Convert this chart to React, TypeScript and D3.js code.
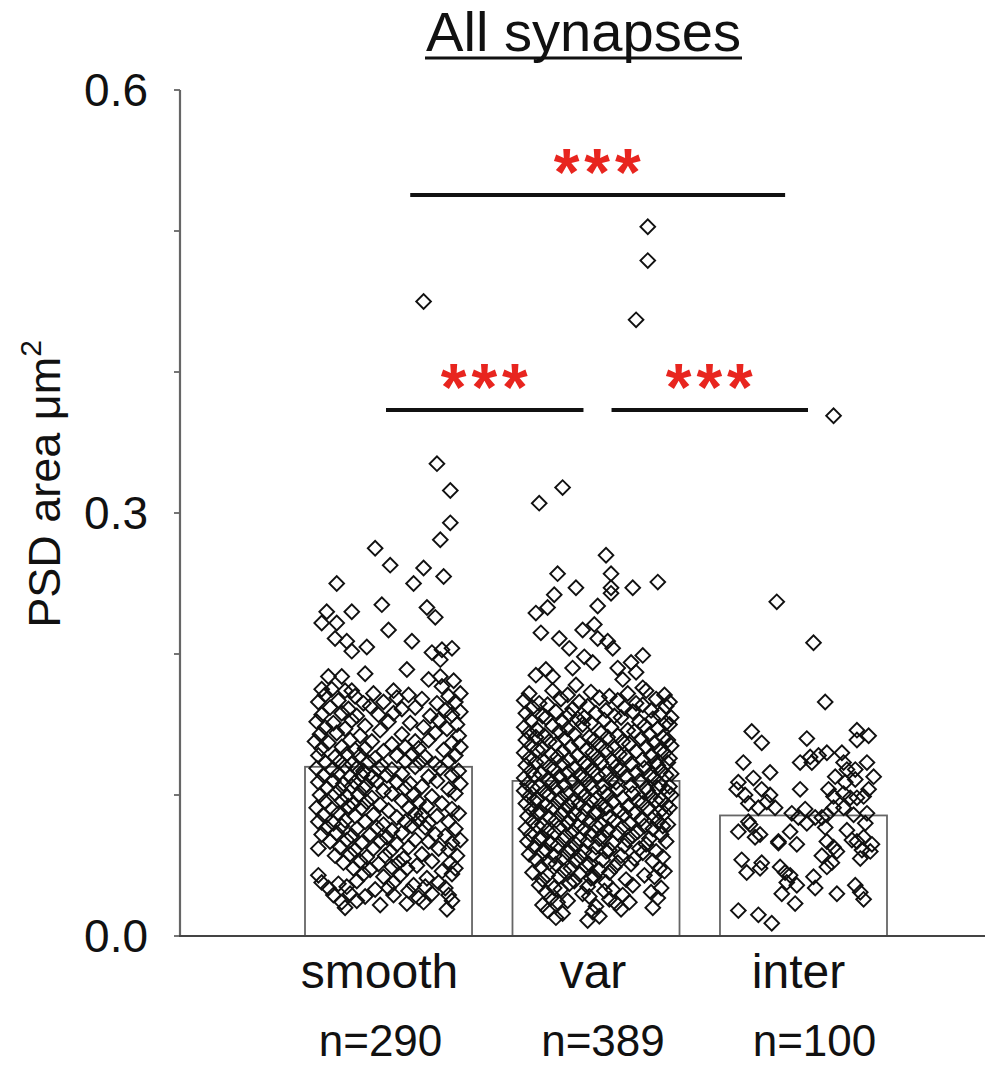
import React from 'react';
import * as d3 from 'd3';

const categories = ['smooth', 'var', 'inter'];
const counts = [290, 389, 100];
const means = [0.12, 0.11, 0.0855];
const yTicks = [0, 0.1, 0.2, 0.3, 0.4, 0.5, 0.6];
const yLabelTicks = [0, 0.3, 0.6];
const title = 'All synapses';
const yTitle = 'PSD area \u03bcm';
const sigLabel = '***';

// [fraction across the bar, PSD area]
const smoothPts: [number, number][] = [
  [0.71,0.450],[0.79,0.335],[0.87,0.316],[0.87,0.293],[0.81,0.281],[0.42,0.275],[0.51,0.263],[0.71,0.261],
  [0.83,0.255],[0.65,0.250],[0.19,0.250],[0.46,0.235],[0.73,0.233],[0.13,0.230],[0.28,0.230],[0.78,0.226],
  [0.10,0.222],[0.19,0.222],[0.50,0.217],[0.18,0.211],[0.25,0.209],[0.64,0.209],[0.37,0.205],[0.28,0.202],
  [0.76,0.201],[0.82,0.203],[0.88,0.204],[0.81,0.196],[0.14,0.184],[0.22,0.184],[0.36,0.186],[0.61,0.189],
  [0.74,0.182],[0.81,0.184],[0.89,0.181],[0.82,0.177],[0.10,0.175],[0.16,0.175],[0.24,0.174],[0.28,0.174],[0.53,0.174],
  [0.12,0.171],[0.30,0.170],[0.41,0.172],[0.55,0.169],[0.62,0.171],[0.86,0.170],[0.93,0.172],
  [0.08,0.166],[0.20,0.167],[0.35,0.165],[0.47,0.166],[0.70,0.168],[0.79,0.165],[0.90,0.166],
  [0.15,0.162],[0.26,0.161],[0.39,0.163],[0.58,0.161],[0.66,0.162],[0.84,0.160],
  [0.10,0.157],[0.22,0.158],[0.31,0.156],[0.44,0.157],[0.53,0.158],[0.75,0.156],[0.88,0.157],[0.93,0.159],
  [0.07,0.152],[0.17,0.151],[0.28,0.153],[0.50,0.152],[0.63,0.151],[0.80,0.153],[0.91,0.150],
  [0.12,0.148],[0.24,0.147],[0.36,0.149],[0.45,0.146],[0.71,0.148],[0.85,0.147],
  [0.09,0.143],[0.19,0.144],[0.33,0.142],[0.58,0.143],[0.78,0.144],[0.92,0.142],
  [0.06,0.138],[0.14,0.137],[0.27,0.139],[0.40,0.138],[0.52,0.136],[0.66,0.138],[0.74,0.139],[0.88,0.137],
  [0.10,0.133],[0.22,0.134],[0.30,0.132],[0.36,0.133],[0.47,0.131],[0.60,0.134],[0.68,0.133],[0.83,0.132],[0.93,0.134],
  [0.08,0.128],[0.18,0.127],[0.25,0.129],[0.33,0.128],[0.42,0.126],[0.55,0.128],[0.64,0.129],[0.72,0.127],[0.90,0.128],
  [0.12,0.123],[0.21,0.124],[0.28,0.122],[0.38,0.123],[0.46,0.121],[0.60,0.124],[0.69,0.123],[0.78,0.122],[0.86,0.124],
  [0.07,0.119],[0.16,0.118],[0.24,0.120],[0.31,0.119],[0.35,0.117],[0.44,0.119],[0.52,0.118],[0.66,0.120],[0.81,0.119],[0.92,0.117],
  [0.11,0.114],[0.20,0.115],[0.27,0.113],[0.34,0.114],[0.40,0.112],[0.49,0.114],[0.58,0.115],[0.74,0.113],[0.88,0.114],
  [0.08,0.109],[0.17,0.110],[0.23,0.108],[0.30,0.109],[0.37,0.107],[0.43,0.110],[0.55,0.109],[0.63,0.108],[0.79,0.110],[0.93,0.108],
  [0.13,0.105],[0.21,0.104],[0.28,0.106],[0.35,0.105],[0.47,0.103],[0.60,0.105],[0.70,0.106],[0.86,0.104],
  [0.09,0.100],[0.18,0.101],[0.25,0.099],[0.32,0.100],[0.40,0.098],[0.52,0.101],[0.65,0.100],[0.76,0.099],[0.90,0.101],
  [0.12,0.095],[0.22,0.096],[0.29,0.094],[0.37,0.095],[0.45,0.093],[0.58,0.096],[0.68,0.095],[0.82,0.094],
  [0.07,0.091],[0.16,0.090],[0.26,0.092],[0.34,0.091],[0.50,0.089],[0.62,0.091],[0.73,0.092],[0.88,0.090],
  [0.11,0.086],[0.20,0.087],[0.30,0.085],[0.41,0.086],[0.55,0.084],[0.66,0.087],[0.70,0.086],[0.79,0.085],[0.92,0.087],
  [0.08,0.081],[0.17,0.080],[0.24,0.082],[0.36,0.081],[0.47,0.079],[0.60,0.081],[0.68,0.082],[0.74,0.080],[0.86,0.081],
  [0.13,0.077],[0.22,0.078],[0.31,0.076],[0.43,0.077],[0.52,0.075],[0.64,0.078],[0.72,0.077],[0.90,0.076],
  [0.10,0.072],[0.19,0.073],[0.28,0.071],[0.39,0.072],[0.49,0.070],[0.58,0.073],[0.78,0.072],[0.84,0.071],
  [0.15,0.067],[0.25,0.068],[0.34,0.066],[0.45,0.067],[0.55,0.065],[0.66,0.068],[0.74,0.067],[0.88,0.066],[0.93,0.068],
  [0.08,0.062],[0.21,0.063],[0.30,0.061],[0.41,0.062],[0.51,0.060],[0.62,0.063],[0.80,0.062],[0.86,0.061],
  [0.18,0.057],[0.27,0.058],[0.37,0.056],[0.48,0.057],[0.59,0.055],[0.70,0.058],[0.91,0.057],
  [0.23,0.052],[0.33,0.053],[0.44,0.051],[0.56,0.052],[0.67,0.050],[0.76,0.053],[0.87,0.052],
  [0.29,0.048],[0.39,0.047],[0.52,0.049],[0.61,0.048],[0.82,0.046],[0.90,0.048],
  [0.08,0.043],[0.35,0.044],[0.47,0.042],[0.57,0.043],[0.73,0.041],[0.88,0.044],
  [0.10,0.038],[0.20,0.037],[0.31,0.039],[0.53,0.038],[0.65,0.036],[0.80,0.038],
  [0.14,0.034],[0.25,0.035],[0.42,0.033],[0.50,0.034],[0.62,0.032],[0.72,0.035],[0.84,0.034],
  [0.17,0.029],[0.27,0.030],[0.36,0.028],[0.53,0.029],[0.68,0.027],[0.76,0.030],[0.86,0.029],
  [0.22,0.024],[0.31,0.025],[0.61,0.023],[0.71,0.024],[0.88,0.025],
  [0.24,0.020],[0.85,0.019],[0.45,0.022],
];

const varPts: [number, number][] = [
  [0.81,0.503],[0.81,0.479],[0.74,0.437],[0.30,0.318],[0.16,0.307],[0.56,0.270],[0.27,0.257],[0.59,0.257],
  [0.38,0.247],[0.59,0.247],[0.59,0.243],[0.72,0.247],[0.87,0.251],[0.25,0.242],[0.21,0.233],[0.14,0.229],
  [0.51,0.234],[0.17,0.215],[0.28,0.211],[0.42,0.217],[0.49,0.221],[0.51,0.211],[0.57,0.209],[0.60,0.204],
  [0.34,0.204],[0.43,0.198],[0.48,0.194],[0.63,0.190],[0.71,0.194],[0.78,0.199],[0.74,0.187],[0.14,0.185],
  [0.20,0.189],[0.24,0.184],[0.36,0.190],[0.38,0.178],[0.66,0.182],[0.78,0.176],
  [0.10,0.172],[0.24,0.174],[0.33,0.171],[0.47,0.173],[0.58,0.170],[0.69,0.172],[0.80,0.174],[0.91,0.171],
  [0.07,0.167],[0.16,0.165],[0.29,0.168],[0.40,0.166],[0.52,0.169],[0.63,0.167],[0.74,0.165],[0.86,0.168],[0.94,0.166],
  [0.12,0.162],[0.21,0.164],[0.36,0.161],[0.45,0.163],[0.56,0.160],[0.67,0.162],[0.78,0.164],[0.83,0.160],[0.92,0.163],
  [0.08,0.158],[0.18,0.156],[0.26,0.159],[0.34,0.157],[0.43,0.155],[0.50,0.158],[0.61,0.156],[0.72,0.159],[0.88,0.157],[0.95,0.155],
  [0.11,0.153],[0.20,0.155],[0.30,0.152],[0.39,0.154],[0.47,0.151],[0.55,0.153],[0.65,0.155],[0.76,0.152],[0.84,0.154],[0.92,0.151],
  [0.07,0.148],[0.15,0.146],[0.24,0.149],[0.33,0.147],[0.42,0.150],[0.59,0.148],[0.69,0.146],[0.79,0.149],[0.87,0.147],[0.94,0.150],
  [0.10,0.144],[0.19,0.142],[0.28,0.145],[0.37,0.143],[0.46,0.141],[0.53,0.144],[0.63,0.142],[0.73,0.145],[0.82,0.143],[0.90,0.141],
  [0.08,0.139],[0.14,0.141],[0.22,0.138],[0.31,0.140],[0.40,0.137],[0.49,0.139],[0.57,0.141],[0.66,0.138],[0.77,0.140],[0.85,0.137],[0.93,0.139],
  [0.11,0.135],[0.18,0.133],[0.26,0.136],[0.35,0.134],[0.44,0.132],[0.52,0.135],[0.61,0.133],[0.70,0.136],[0.80,0.134],[0.88,0.132],[0.95,0.135],
  [0.07,0.130],[0.15,0.132],[0.23,0.129],[0.30,0.131],[0.39,0.128],[0.48,0.130],[0.56,0.132],[0.64,0.129],[0.74,0.131],[0.83,0.128],[0.91,0.130],
  [0.10,0.126],[0.19,0.124],[0.27,0.127],[0.34,0.125],[0.43,0.123],[0.51,0.126],[0.60,0.124],[0.68,0.127],[0.78,0.125],[0.86,0.123],[0.94,0.126],
  [0.08,0.121],[0.14,0.123],[0.22,0.120],[0.30,0.122],[0.37,0.119],[0.45,0.121],[0.53,0.123],[0.62,0.120],[0.71,0.122],[0.79,0.119],[0.87,0.121],[0.93,0.123],
  [0.11,0.117],[0.17,0.115],[0.25,0.118],[0.33,0.116],[0.40,0.114],[0.48,0.117],[0.56,0.115],[0.65,0.118],[0.74,0.116],[0.82,0.114],[0.89,0.117],[0.95,0.115],
  [0.07,0.112],[0.13,0.114],[0.21,0.111],[0.28,0.113],[0.36,0.110],[0.43,0.112],[0.51,0.114],[0.59,0.111],[0.68,0.113],[0.76,0.110],[0.85,0.112],[0.92,0.114],
  [0.09,0.108],[0.16,0.106],[0.24,0.109],[0.31,0.107],[0.39,0.105],[0.46,0.108],[0.54,0.106],[0.62,0.109],[0.71,0.107],[0.80,0.105],[0.88,0.108],[0.94,0.106],
  [0.07,0.103],[0.12,0.105],[0.19,0.102],[0.26,0.104],[0.33,0.101],[0.41,0.103],[0.48,0.105],[0.55,0.102],[0.63,0.104],[0.72,0.101],[0.81,0.103],[0.87,0.105],[0.93,0.102],
  [0.10,0.099],[0.15,0.097],[0.22,0.100],[0.29,0.098],[0.36,0.096],[0.43,0.099],[0.50,0.097],[0.57,0.100],[0.66,0.098],[0.75,0.096],[0.83,0.099],[0.89,0.097],[0.95,0.100],
  [0.08,0.094],[0.13,0.096],[0.20,0.093],[0.27,0.095],[0.34,0.092],[0.40,0.094],[0.47,0.096],[0.53,0.093],[0.60,0.095],[0.69,0.092],[0.78,0.094],[0.86,0.096],[0.92,0.093],
  [0.11,0.090],[0.17,0.088],[0.24,0.091],[0.31,0.089],[0.37,0.087],[0.44,0.090],[0.51,0.088],[0.56,0.091],[0.64,0.089],[0.73,0.087],[0.81,0.090],[0.88,0.088],[0.94,0.091],
  [0.09,0.085],[0.15,0.087],[0.22,0.084],[0.29,0.086],[0.35,0.083],[0.42,0.085],[0.49,0.087],[0.58,0.084],[0.67,0.086],[0.77,0.083],[0.85,0.085],[0.91,0.087],
  [0.12,0.081],[0.18,0.079],[0.26,0.082],[0.33,0.080],[0.39,0.078],[0.46,0.081],[0.53,0.079],[0.61,0.082],[0.70,0.080],[0.79,0.078],[0.87,0.081],[0.93,0.079],
  [0.08,0.076],[0.15,0.078],[0.21,0.075],[0.28,0.077],[0.36,0.074],[0.43,0.076],[0.50,0.078],[0.57,0.075],[0.66,0.077],[0.75,0.074],[0.84,0.076],[0.90,0.078],
  [0.11,0.072],[0.18,0.070],[0.25,0.073],[0.32,0.071],[0.40,0.069],[0.47,0.072],[0.55,0.070],[0.63,0.073],[0.72,0.071],[0.82,0.069],[0.89,0.072],
  [0.09,0.067],[0.16,0.069],[0.23,0.066],[0.30,0.068],[0.38,0.065],[0.45,0.067],[0.52,0.069],[0.60,0.066],[0.69,0.068],[0.80,0.065],[0.92,0.067],
  [0.13,0.063],[0.20,0.061],[0.27,0.064],[0.35,0.062],[0.43,0.060],[0.50,0.063],[0.58,0.061],[0.67,0.064],[0.76,0.062],[0.86,0.060],
  [0.10,0.058],[0.18,0.060],[0.25,0.057],[0.33,0.059],[0.41,0.056],[0.48,0.058],[0.56,0.060],[0.65,0.057],[0.78,0.059],[0.90,0.056],
  [0.14,0.054],[0.22,0.052],[0.30,0.055],[0.38,0.053],[0.46,0.051],[0.54,0.054],[0.63,0.052],[0.73,0.055],[0.84,0.053],
  [0.17,0.049],[0.26,0.051],[0.35,0.048],[0.44,0.050],[0.52,0.047],[0.61,0.049],[0.71,0.051],[0.88,0.048],
  [0.12,0.045],[0.21,0.043],[0.31,0.046],[0.40,0.044],[0.49,0.042],[0.58,0.045],[0.79,0.043],[0.91,0.046],
  [0.18,0.040],[0.28,0.042],[0.37,0.039],[0.47,0.041],[0.56,0.038],[0.68,0.040],[0.85,0.042],
  [0.16,0.036],[0.25,0.034],[0.34,0.037],[0.45,0.035],[0.60,0.033],[0.72,0.036],[0.89,0.034],
  [0.20,0.031],[0.29,0.033],[0.42,0.030],[0.55,0.032],[0.66,0.029],[0.83,0.031],
  [0.23,0.027],[0.33,0.025],[0.46,0.028],[0.58,0.026],[0.70,0.024],[0.87,0.027],
  [0.18,0.022],[0.27,0.024],[0.50,0.021],[0.62,0.023],[0.84,0.020],
  [0.21,0.018],[0.30,0.016],[0.48,0.017],[0.65,0.019],
  [0.26,0.013],[0.45,0.011],[0.52,0.014],
];

const interPts: [number, number][] = [
  [0.68,0.369],[0.34,0.237],[0.56,0.208],[0.63,0.166],[0.19,0.145],[0.25,0.137],[0.52,0.140],[0.82,0.146],
  [0.82,0.139],[0.89,0.142],[0.14,0.123],[0.30,0.116],[0.48,0.123],[0.54,0.127],[0.59,0.128],[0.64,0.130],
  [0.55,0.123],[0.73,0.130],[0.74,0.123],[0.76,0.118],[0.81,0.118],[0.88,0.123],[0.69,0.113],[0.75,0.109],
  [0.81,0.111],[0.11,0.109],[0.10,0.104],[0.25,0.104],[0.30,0.100],[0.28,0.095],[0.17,0.094],[0.23,0.091],
  [0.33,0.091],[0.65,0.104],[0.68,0.099],[0.74,0.101],[0.78,0.098],[0.82,0.098],[0.86,0.099],[0.89,0.104],
  [0.68,0.091],[0.74,0.091],[0.88,0.087],[0.43,0.087],[0.51,0.090],[0.47,0.084],[0.52,0.080],[0.57,0.084],
  [0.61,0.084],[0.64,0.086],[0.76,0.075],[0.18,0.079],[0.24,0.072],[0.21,0.070],[0.11,0.074],[0.35,0.067],
  [0.35,0.066],[0.46,0.065],[0.64,0.067],[0.68,0.063],[0.70,0.060],[0.79,0.068],[0.82,0.067],[0.86,0.070],
  [0.90,0.060],[0.85,0.061],[0.84,0.055],[0.13,0.054],[0.16,0.045],[0.25,0.052],[0.24,0.048],[0.36,0.049],
  [0.39,0.045],[0.42,0.043],[0.40,0.038],[0.56,0.042],[0.57,0.034],[0.64,0.049],[0.67,0.052],[0.61,0.057],
  [0.91,0.065],[0.81,0.036],[0.84,0.031],[0.86,0.026],[0.37,0.030],[0.45,0.023],[0.46,0.036],[0.70,0.030],
  [0.11,0.018],[0.23,0.015],[0.31,0.009],[0.20,0.112],[0.17,0.081],[0.42,0.074],[0.87,0.080],[0.63,0.077],
  [0.80,0.086],[0.92,0.113],[0.15,0.100],[0.48,0.104],
];

const groups = [smoothPts, varPts, interPts];

const W = 985;
const H = 1068;
const FONT = "'Liberation Sans', Arial, sans-serif";
const RED = '#e8251f';

export default function App() {
  const y = d3.scaleLinear().domain([0, 0.6]).range([936, 90]);
  const x = d3.scaleBand<string>().domain(categories).range([305, 887]).paddingInner(0.195).paddingOuter(0);
  const bw = x.bandwidth();
  const axisX = 180;
  const diamond = d3.symbol().type(d3.symbolSquare).size(108)() as string;

  const px = (cat: string, f: number) => (x(cat) as number) + f * bw;

  const sigs = [
    { x1: px('smooth', 0.63), x2: px('inter', 0.39), level: 0.5255 },
    { x1: px('smooth', 0.485), x2: px('var', 0.425), level: 0.373 },
    { x1: px('var', 0.593), x2: px('inter', 0.527), level: 0.373 },
  ];

  const labelDx = [-9, -3, -5];
  const nDx = [-8, 7, 11];

  return (
    <svg width={W} height={H} style={{ position: 'absolute', left: 0, top: 0, background: '#fff' }} fontFamily={FONT}>
      <rect x={0} y={0} width={W} height={H} fill="#fff" />
      {/* title */}
      <text x={583.5} y={51} textAnchor="middle" fontSize={55} fill="#111"
        textLength={315} lengthAdjust="spacingAndGlyphs">{title}</text>
      <line x1={425} x2={742} y1={58} y2={58} stroke="#111" strokeWidth={3} />

      {/* bars */}
      {categories.map((c, i) => (
        <rect key={c} x={x(c)} y={y(means[i])} width={bw} height={y(0) - y(means[i])}
          fill="#fff" stroke="#666" strokeWidth={1.8} />
      ))}

      {/* points */}
      {groups.map((pts, gi) => (
        <g key={gi}>
          {pts.map((d, i) => (
            <path key={i} d={diamond}
              transform={`translate(${px(categories[gi], d[0])},${y(d[1])}) rotate(45)`}
              fill="none" stroke="#111" strokeWidth={1.9} />
          ))}
        </g>
      ))}

      {/* axes */}
      <line x1={axisX} x2={axisX} y1={y(0.6)} y2={y(0)} stroke="#666" strokeWidth={2.2} />
      {yTicks.map(t => (
        <line key={t} x1={axisX - 6} x2={axisX} y1={y(t)} y2={y(t)} stroke="#666" strokeWidth={1.8} />
      ))}
      <line x1={axisX - 1} x2={W} y1={y(0)} y2={y(0)} stroke="#444" strokeWidth={2.2} />
      {yLabelTicks.map(t => (
        <text key={t} x={148} y={y(t) + 16} textAnchor="end" fontSize={46} fill="#111">{t.toFixed(1)}</text>
      ))}
      <text transform={`translate(60,484) rotate(-90)`} textAnchor="middle" fontSize={45} fill="#111">
        {yTitle}<tspan fontSize={30} dy={-19}>2</tspan>
      </text>

      {/* category labels */}
      {categories.map((c, i) => (
        <text key={c} x={(x(c) as number) + bw / 2 + labelDx[i]} y={988} textAnchor="middle" fontSize={48} fill="#111">{c}</text>
      ))}
      {categories.map((c, i) => (
        <text key={c + 'n'} x={(x(c) as number) + bw / 2 + nDx[i]} y={1056} textAnchor="middle" fontSize={44} fill="#111">{`n=${counts[i]}`}</text>
      ))}

      {/* significance */}
      {sigs.map((s, i) => (
        <g key={i}>
          <line x1={s.x1} x2={s.x2} y1={y(s.level)} y2={y(s.level)} stroke="#111" strokeWidth={4} />
          <text x={(s.x1 + s.x2) / 2 + 2} y={y(s.level) + 0} textAnchor="middle" fontSize={66} fontWeight="bold"
            fill={RED} letterSpacing={5}>{sigLabel}</text>
        </g>
      ))}
    </svg>
  );
}
